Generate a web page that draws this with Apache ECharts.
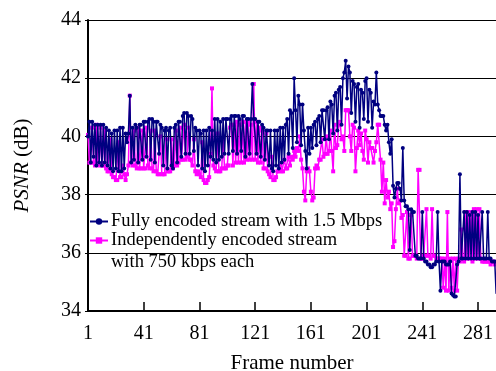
<!DOCTYPE html>
<html><head><meta charset="utf-8">
<script src="https://cdn.jsdelivr.net/npm/echarts@6/dist/echarts.min.js"></script>
<style>html,body{margin:0;padding:0;background:#fff}#c{width:496px;height:371px}</style>
</head><body><div id="c"></div>
<script>
const xTicks = [1, 41, 81, 121, 161, 201, 241, 281];
const yTicks = [34, 36, 38, 40, 42, 44];
const seriesNames = ['Fully encoded stream with 1.5 Mbps', 'Independently encoded stream'];
const legendExtra = 'with 750 kbps each';
const fullStream = [
40.0,40.5,39.1,40.5,39.3,40.4,39.0,40.4,39.1,40.4,
39.0,40.4,39.1,40.3,39.0,40.2,38.9,40.1,38.8,40.2,
38.9,40.2,38.8,40.3,38.8,40.3,38.9,40.1,39.8,40.1,
41.4,39.1,40.3,39.2,40.4,40.3,39.1,40.4,40.4,39.2,
40.5,40.5,39.3,40.5,40.6,39.2,40.6,40.5,39.1,40.5,
40.5,39.4,40.4,40.3,39.0,40.2,40.3,38.9,40.2,40.3,
39.0,38.9,40.3,40.4,39.1,40.5,40.5,39.3,40.7,40.8,
39.4,40.8,40.7,39.4,40.7,40.6,39.5,40.3,40.2,39.0,
40.2,40.1,38.9,40.2,38.8,40.2,39.0,40.3,39.3,40.2,
39.2,40.6,39.1,40.6,39.2,40.5,39.3,40.6,39.4,40.6,
40.6,39.4,40.6,40.7,39.5,40.7,40.7,39.4,40.7,40.6,
39.5,40.7,40.7,39.3,40.6,40.6,39.4,40.6,41.8,40.6,
40.6,39.4,40.5,40.5,39.3,40.4,40.3,39.2,40.2,40.2,
39.0,40.2,38.9,38.8,40.2,39.0,40.2,38.9,40.3,39.1,
40.3,39.2,40.4,40.6,39.4,40.9,40.8,39.6,42.0,40.9,
39.8,41.4,41.1,39.7,41.1,40.2,39.5,38.9,40.3,39.4,
40.3,39.6,40.4,40.5,39.7,40.6,40.7,39.8,40.9,40.9,
39.9,40.9,41.0,39.9,41.2,41.1,40.1,41.4,41.5,40.2,
41.6,41.7,40.4,42.0,42.2,42.6,41.3,42.4,42.2,40.8,
41.9,41.8,40.5,41.7,41.8,40.3,41.6,41.5,40.6,41.9,
42.0,40.5,41.6,41.5,40.3,41.2,41.1,42.2,41.1,40.9,
40.7,40.7,40.7,40.4,40.2,40.4,39.8,39.4,39.9,38.3,
37.9,38.2,38.4,38.4,38.2,37.8,39.6,37.8,37.6,37.6,
37.5,36.1,37.5,37.4,37.4,35.9,35.9,35.8,35.8,35.8,
37.4,35.8,35.7,35.7,35.6,35.6,35.5,35.5,35.6,35.6,
35.7,37.4,35.7,34.7,35.7,35.7,35.7,35.6,35.6,35.6,
35.7,34.6,34.55,34.5,34.5,35.6,35.7,38.7,35.8,35.8,
37.4,35.8,37.4,35.8,37.3,35.8,37.4,35.8,37.4,35.8,
37.3,35.8,35.8,37.4,35.8,35.8,35.8,37.4,35.8,35.8,
35.7,35.7,35.7,34.6,34.6,34.6
];
const indepStream = [
40.05,39.1,39.1,40.3,39.1,39.0,40.4,39.1,39.0,40.3,
39.0,39.0,40.2,38.9,38.8,38.8,39.9,38.7,38.6,38.6,
38.5,38.5,39.8,38.6,38.6,39.0,38.7,38.5,38.7,39.0,
41.4,39.1,39.0,40.2,39.0,38.9,40.3,38.9,38.9,40.2,
38.9,38.9,40.3,39.0,38.9,40.2,38.9,38.8,40.2,38.8,
38.7,38.7,40.0,38.7,38.7,38.7,39.9,38.8,38.8,38.8,
39.9,38.9,39.0,40.2,39.0,39.1,40.3,39.2,39.2,40.4,
39.2,39.3,40.3,39.2,39.2,39.0,39.9,38.8,38.7,38.8,
38.7,38.6,39.8,38.5,38.4,38.4,38.5,38.6,39.4,41.65,
39.0,38.9,38.8,40.1,38.8,38.8,38.9,39.9,38.9,38.9,
39.0,39.0,40.3,40.4,39.0,40.4,39.1,40.5,39.1,40.4,
39.1,40.5,39.1,40.5,39.2,40.5,39.2,40.4,39.2,41.8,
39.2,40.5,39.1,40.3,39.1,40.2,38.9,38.9,40.1,38.8,
38.7,38.6,39.3,38.5,38.5,38.6,38.8,38.8,39.0,38.8,
38.8,39.2,38.9,38.9,39.3,39.0,39.3,39.2,39.5,39.3,
39.6,39.5,40.0,39.2,38.9,38.1,37.8,38.8,38.9,38.8,
38.1,37.8,37.9,38.9,39.0,38.9,39.2,39.2,39.9,39.3,
39.4,40.0,39.4,39.5,40.2,39.5,38.8,40.4,39.6,39.7,
40.4,40.5,39.9,40.0,39.5,40.9,40.9,40.9,40.0,39.5,
40.4,40.3,38.8,39.6,40.2,39.7,40.1,39.5,39.2,40.2,
39.9,39.1,39.8,39.6,39.6,39.1,39.5,39.8,40.4,40.4,
39.2,38.1,39.1,37.7,38.5,37.9,38.1,37.5,37.7,36.2,
36.4,37.5,38.2,37.7,37.8,37.2,37.3,35.9,35.9,37.4,
35.8,35.8,37.3,35.9,35.9,35.9,35.8,38.85,38.85,35.8,
35.8,35.9,35.9,37.5,35.9,35.9,35.8,37.5,35.9,35.9,
35.8,35.8,35.8,35.8,35.8,34.8,35.8,34.7,37.4,34.7,
35.8,34.8,35.8,34.7,35.8,34.7,35.8,35.7,36.8,35.8,
35.7,37.4,35.8,37.4,35.8,37.4,35.7,37.5,35.8,37.5,
35.8,37.5,35.8,35.7,35.7,35.7,35.7,35.7,35.7,35.6,
35.7,35.7,35.6,35.7,35.7,35.7
];
const toPairs = arr => arr.map((v, i) => [i + 1, v]);
const serif = 'Liberation Serif';
const chart = echarts.init(document.getElementById('c'), null, {renderer: 'canvas'});
chart.setOption({
  animation: false,
  backgroundColor: '#fff',
  grid: {left: 88, top: 20, right: 0, bottom: 60, containLabel: false, outerBoundsMode: 'none'},
  xAxis: {
    type: 'value', min: xTicks[0], max: 293.9, interval: 40,
    name: 'Frame number', nameLocation: 'middle', nameGap: 42,
    nameTextStyle: {fontFamily: serif, fontSize: 21, color: '#000'},
    axisLine: {show: true, lineStyle: {color: '#000', width: 2}},
    axisTick: {show: true, inside: true, length: 9, lineStyle: {color: '#000', width: 1.5}},
    axisLabel: {fontFamily: serif, fontSize: 20, color: '#000', margin: 13, showMaxLabel: false},
    splitLine: {show: false}
  },
  yAxis: {
    type: 'value', min: yTicks[0], max: yTicks[yTicks.length - 1], interval: 2,
    name: '{i|PSNR} (dB)', nameLocation: 'middle', nameGap: 55, nameRotate: 90,
    nameTextStyle: {fontFamily: serif, fontSize: 21, color: '#000',
      rich: {i: {fontFamily: serif, fontSize: 21, fontStyle: 'italic', color: '#000'}}},
    axisLine: {show: true, lineStyle: {color: '#000', width: 2}},
    axisTick: {show: true, length: 3, lineStyle: {color: '#000', width: 1}},
    axisLabel: {fontFamily: serif, fontSize: 20, color: '#000', margin: 7},
    splitLine: {show: true, lineStyle: {color: '#000', width: 1}}
  },
  legend: {
    orient: 'vertical', left: 89, top: 212, padding: 0, itemGap: 0,
    itemWidth: 18, itemHeight: 8, selectedMode: false,
    textStyle: {fontFamily: serif, fontSize: 18.5, color: '#000', lineHeight: 18, padding: [0, 0, 0, -2]},
    data: seriesNames
  },
  graphic: [{
    type: 'text', left: 111, top: 253,
    style: {text: legendExtra, font: '18.5px "Liberation Serif"', fill: '#000'}
  }],
  series: [{
    name: seriesNames[1], type: 'line', data: toPairs(indepStream), z: 2,
    showAllSymbol: true, symbol: 'rect', symbolSize: 4,
    lineStyle: {color: '#ff00ff', width: 1.5}, itemStyle: {color: '#ff00ff'}
  }, {
    name: seriesNames[0], type: 'line', data: toPairs(fullStream), z: 3,
    showAllSymbol: true, symbol: 'circle', symbolSize: 4,
    lineStyle: {color: '#000080', width: 1.5}, itemStyle: {color: '#000080'}
  }]
});
</script></body></html>
